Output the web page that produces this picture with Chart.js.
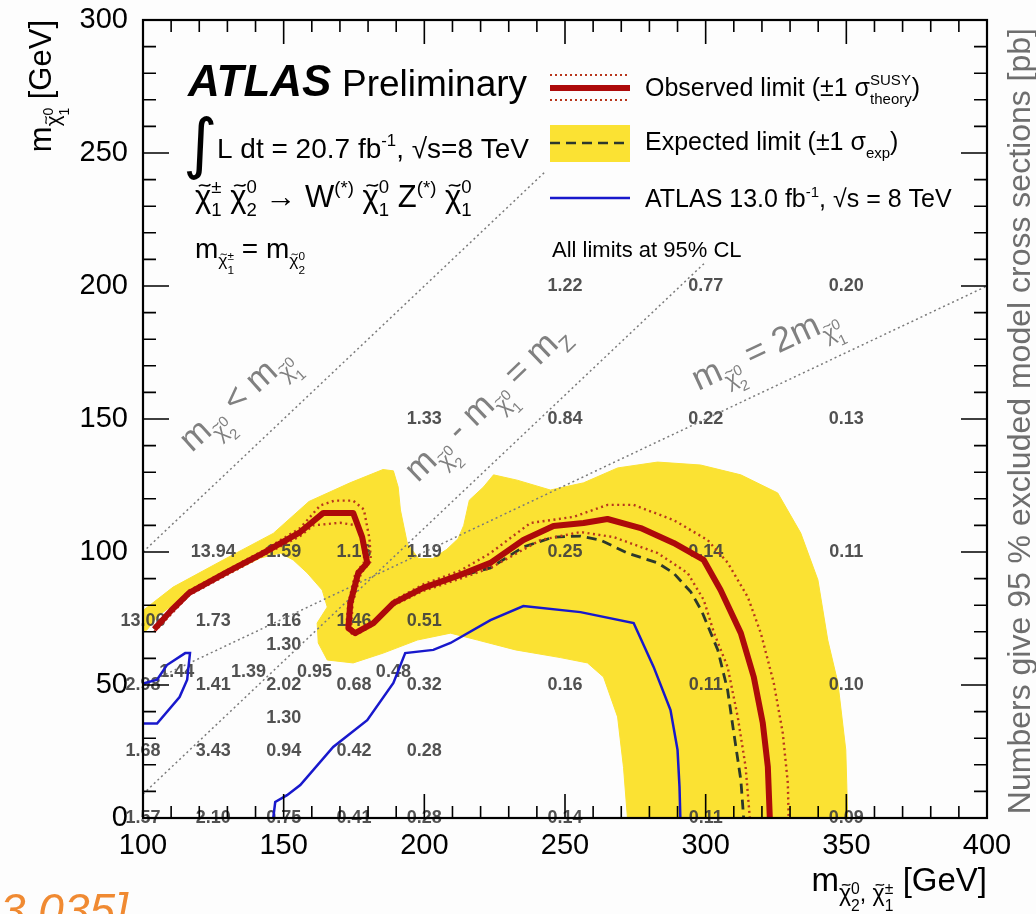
<!DOCTYPE html>
<html>
<head>
<meta charset="utf-8">
<title>ATLAS WZ chargino-neutralino limits</title>
<script src="https://cdn.jsdelivr.net/npm/chart.js@4.4.1/dist/chart.umd.min.js"></script>
<style>
  html, body { margin: 0; padding: 0; background: #fff; }
  canvas { display: block; }
</style>
</head>
<body>
<canvas id="limitChart" width="1036" height="914"></canvas>
<script>
const FONT = '"Liberation Sans", Arial, Helvetica, sans-serif';

// x = m(chi2^0) = m(chi1^+-), y = m(chi1^0), both GeV
const xRange = [100, 400];
const yRange = [0, 300];

// observed limit (thick red)
const observedLimit = [
  [104, 71], [110, 78], [116.4, 84.6], [130, 92.5], [142.7, 99.6], [155.9, 107.5],
  [164.1, 114.7], [174.7, 114.7], [177.9, 105.6], [179.7, 95.9], [176.5, 92.1],
  [173.7, 80.8], [173, 71.4], [175.4, 69.5], [181.9, 73.3], [189, 80.8], [199.6, 86.5],
  [212.8, 91.4], [223.5, 95.9], [235.2, 104.5], [245.9, 109.8], [256.6, 110.9],
  [265.1, 112.4], [276.9, 109], [288.6, 103.4], [299.3, 97], [305.3, 85.7],
  [312.5, 69.5], [317.1, 53], [320.3, 35.7], [322.1, 19.2], [322.8, 0]
];

// observed +1 sigma theory (dotted, outer)
const observedUp = [
  [104, 72], [116.4, 85.5], [142.7, 100.5], [155.9, 109], [163, 117.5], [168, 119.3],
  [174.7, 119.3], [178.5, 116], [180.5, 105], [181, 96.5], [177.5, 92], [174.5, 80.8],
  [174, 71.4], [176, 70], [182.5, 74.5], [189.5, 82], [200, 88], [212.8, 93],
  [223.5, 99.6], [237.7, 110.9], [253, 113.2], [265.1, 117.7], [274.4, 117.7],
  [288.6, 112], [300.7, 104.5], [307.8, 96], [315, 83], [319.6, 69.5], [324.2, 50.8],
  [327.4, 32], [329.2, 13.2], [329.5, 0]
];

// observed -1 sigma theory (dotted, inner)
const observedDown = [
  [104, 70], [116.4, 83.8], [142.7, 98.7], [155.9, 106], [160.5, 110], [170, 111],
  [176, 110], [178.8, 103], [178.5, 96], [175.5, 92], [173, 80.8], [172.2, 71.4],
  [175, 68.5], [181.5, 72.3], [188.7, 79.8], [199.4, 85.3], [212.8, 90], [223.5, 94],
  [241.3, 104.5], [255.5, 107.5], [267.3, 105.6], [282.9, 99.6], [293.6, 92.1],
  [299.3, 82], [303, 69.5], [307.8, 56.8], [311.4, 38], [314.2, 19.2], [315.7, 0]
];

// expected limit (dashed)
const expectedLimit = [
  [104, 71], [110, 78], [116.4, 84.6], [130, 92.5], [142.7, 99.6], [155.9, 107.5],
  [164.1, 114.7], [174.7, 114.7], [177.9, 105.6], [179.7, 95.9], [176.5, 92.1],
  [173.7, 80.8], [173, 71.4], [175.4, 69.5], [181.9, 73.3], [189, 80.8], [199.6, 86.5],
  [212.8, 91], [223.5, 94], [235.2, 101.9], [245.9, 105.6], [255.5, 106], [262.6, 104.5],
  [272.2, 99.6], [282.9, 95.9], [288.6, 92.1], [294.7, 85], [298.5, 78], [304.3, 63.2],
  [307.8, 48.1], [310, 32], [312.5, 14.3], [313.5, 0]
];

// expected +-1 sigma band outline (yellow)
const expectedBand = [
  [100, 78], [110.7, 86.8], [128.5, 97], [146.3, 107], [159, 119], [173.6, 126],
  [185.3, 131], [189, 130.5], [190.7, 124.4], [191.5, 115.8], [194, 103], [198, 97.5],
  [203, 97.5], [208, 101], [212, 105], [214, 110], [216, 119.5], [221, 124.4], [224.6, 129],
  [233, 127], [244.8, 123.3], [256.6, 126], [268.7, 131.6], [282.9, 133.8], [298.2, 132.7],
  [312.5, 129], [325.6, 122.2], [333.8, 107.1], [339.9, 89.5], [343.4, 66.9], [347, 50.8],
  [349.8, 25.6], [350.5, 0], [272.2, 0], [270.8, 19], [268.7, 38], [263.7, 53],
  [258, 58.3], [248.4, 60.3], [232.4, 63.2], [218.9, 66.9], [209.3, 69.5], [197.5, 66.9],
  [185.4, 62], [174.7, 58.3], [165.5, 59.4], [162.3, 65.8], [161.9, 73.3], [165.5, 79.3],
  [163.7, 85.7], [158.4, 92.1], [153.4, 97], [148.8, 99.6], [141.6, 97.7], [126.3, 89.5],
  [114.2, 83.1], [105, 75.6], [101.4, 70.7], [100, 70]
];

// previous ATLAS 13.0 fb-1 limit (blue), two pieces
const atlas13Left = [
  [100, 35.5], [105, 35.5], [113, 45.5], [115.7, 52], [116.7, 62], [115, 62],
  [108.5, 57.5], [105, 52], [100, 50.5]
];
const atlas13Right = [
  [146.3, 0], [147, 6], [151.2, 8.6], [155.9, 12.4], [167.6, 26.7], [179.7, 36.8],
  [189, 50.8], [193.2, 62], [203.2, 63.2], [209.3, 65.8], [223.5, 74.4], [235.2, 79.7],
  [255.5, 77.4], [274.4, 73.3], [281.5, 56.8], [287.5, 40.6], [290, 25.6], [290.7, 11.7],
  [291, 0]
];

// kinematic boundaries
const kinEqual = [[100, 100], [243, 243]];
const kinZ = [[100, 9], [300, 209]];
const kinHalf = [[100, 50], [400, 200]];

// excluded cross sections [pb] at grid points: x, y, text
const crossSections = [
  [100, 0, '1.57'], [125, 0, '2.10'], [150, 0, '0.75'], [175, 0, '0.41'], [200, 0, '0.28'],
  [250, 0, '0.14'], [300, 0, '0.11'], [350, 0, '0.09'],
  [100, 25, '1.68'], [125, 25, '3.43'], [150, 25, '0.94'], [175, 25, '0.42'], [200, 25, '0.28'],
  [150, 37.5, '1.30'],
  [100, 50, '2.98'], [125, 50, '1.41'], [150, 50, '2.02'], [175, 50, '0.68'], [200, 50, '0.32'],
  [250, 50, '0.16'], [300, 50, '0.11'], [350, 50, '0.10'],
  [112, 55, '1.44'], [137.5, 55, '1.39'], [161, 55, '0.95'], [189, 55, '0.48'],
  [150, 65, '1.30'],
  [100, 74, '13.06'], [125, 74, '1.73'], [150, 74, '1.16'], [175, 74, '1.46'], [200, 74, '0.51'],
  [125, 100, '13.94'], [150, 100, '1.59'], [175, 100, '1.16'], [200, 100, '1.19'],
  [250, 100, '0.25'], [300, 100, '0.14'], [350, 100, '0.11'],
  [200, 150, '1.33'], [250, 150, '0.84'], [300, 150, '0.22'], [350, 150, '0.13'],
  [250, 200, '1.22'], [300, 200, '0.77'], [350, 200, '0.20']
];

// where the boundary labels sit (data coords) and their angle
const kinLabelPos = [[135.5, 154.5], [224.6, 153.4], [322.6, 173]];
const kinLabelAngle = [-42, -44, -25];

const BAND_YELLOW = '#fbe233';
const OBS_RED = '#ad0a0a';
const SIGMA_DOT = '#b8361c';
const EXP_DASH = '#2c382c';
const OLD_BLUE = '#1818cc';
const DIAG_GREY = '#7a7a7a';

const toXY = pts => pts.map(([x, y]) => ({ x, y }));

// rich text: parts are strings or {t, s (scale), dy (em, + = down), keep (stack with next), tilde}
function drawRich(ctx, parts, x, y, size, opts) {
  opts = opts || {};
  const style = opts.style || '';
  const fontFor = s => `${style} ${(size * s).toFixed(1)}px ${opts.family || FONT}`;
  const items = parts.map(p => (typeof p === 'string' ? { t: p } : p));
  items.forEach(p => {
    ctx.font = fontFor(p.s || 1);
    p.w = ctx.measureText(p.t).width;
  });
  let w = 0, pending = 0;
  items.forEach(p => {
    if (p.keep) { pending = Math.max(pending, p.w); return; }
    w += Math.max(p.w, pending); pending = 0;
  });
  w += pending;
  ctx.save();
  ctx.translate(x, y);
  if (opts.angle) ctx.rotate(opts.angle * Math.PI / 180);
  let cx = opts.align === 'right' ? -w : opts.align === 'center' ? -w / 2 : 0;
  ctx.fillStyle = opts.color || '#000';
  ctx.strokeStyle = opts.color || '#000';
  ctx.textBaseline = 'alphabetic';
  ctx.textAlign = 'left';
  pending = 0;
  items.forEach(p => {
    const fs = size * (p.s || 1);
    const by = (p.dy || 0) * size;
    ctx.font = fontFor(p.s || 1);
    ctx.fillText(p.t, cx, by);
    if (p.tilde) {
      // little wave over the chi
      const tw = p.w * 0.7, t0 = cx + (p.w - tw) / 2 + fs * 0.05, ty = by - fs * 0.7;
      ctx.lineWidth = Math.max(1, fs * 0.055);
      ctx.beginPath();
      ctx.moveTo(t0, ty + fs * 0.03);
      ctx.bezierCurveTo(t0 + tw * 0.3, ty - fs * 0.1, t0 + tw * 0.7, ty + fs * 0.12, t0 + tw, ty - fs * 0.03);
      ctx.stroke();
    }
    if (p.keep) { pending = Math.max(pending, p.w); return; }
    cx += Math.max(p.w, pending); pending = 0;
  });
  ctx.restore();
  return w;
}

// chi-tilde with stacked sup/sub, full size or as a subscript of m
const chiFull = (up, down) => [
  { t: 'χ', tilde: true }, { t: up, s: 0.6, dy: -0.45, keep: true }, { t: down, s: 0.6, dy: 0.3 }
];
const chiSub = (up, down, k = 0.62) => [
  { t: 'χ', s: k, dy: 0.3, tilde: true }, { t: up, s: k * 0.68, dy: 0.08, keep: true },
  { t: down, s: k * 0.68, dy: 0.3 + k * 0.42 }
];
const supText = t => ({ t, s: 0.6, dy: -0.42 });

function seg(ctx, x0, y0, x1, y1, color, width, dash) {
  ctx.save();
  ctx.strokeStyle = color;
  ctx.lineWidth = width;
  ctx.setLineDash(dash || []);
  ctx.beginPath();
  ctx.moveTo(x0, y0);
  ctx.lineTo(x1, y1);
  ctx.stroke();
  ctx.restore();
}

const whiteBackground = {
  id: 'whiteBackground',
  beforeDraw(chart) {
    const ctx = chart.ctx;
    ctx.save();
    ctx.fillStyle = '#fdfdfd';
    ctx.fillRect(0, 0, chart.width, chart.height);
    ctx.restore();
  }
};

// numbers go on top of the yellow band but under the limit lines
const crossSectionLabels = {
  id: 'crossSectionLabels',
  afterDatasetDraw(chart, args) {
    if (args.index !== 0) return;
    const { ctx, scales: { x, y } } = chart;
    ctx.save();
    ctx.font = `bold 18px ${FONT}`;
    ctx.fillStyle = 'rgba(62,62,62,0.9)';
    ctx.textAlign = 'center';
    ctx.textBaseline = 'middle';
    crossSections.forEach(([vx, vy, txt]) => {
      ctx.fillText(txt, x.getPixelForValue(vx), y.getPixelForValue(vy));
    });
    ctx.restore();
  }
};

// ROOT style frame with inward ticks on all four sides
const frameTicks = {
  id: 'frameTicks',
  afterDatasetsDraw(chart) {
    const { ctx, chartArea: a, scales: { x, y } } = chart;
    ctx.save();
    ctx.strokeStyle = '#000';
    ctx.lineWidth = 1.6;
    ctx.beginPath();
    for (let v = xRange[0]; v <= xRange[1]; v += 10) {
      const px = x.getPixelForValue(v);
      const len = v % 50 === 0 ? 24 : 12;
      ctx.moveTo(px, a.bottom); ctx.lineTo(px, a.bottom - len);
      ctx.moveTo(px, a.top); ctx.lineTo(px, a.top + len);
    }
    for (let v = yRange[0]; v <= yRange[1]; v += 10) {
      const py = y.getPixelForValue(v);
      const len = v % 50 === 0 ? 26 : 13;
      ctx.moveTo(a.left, py); ctx.lineTo(a.left + len, py);
      ctx.moveTo(a.right, py); ctx.lineTo(a.right - len, py);
    }
    ctx.stroke();
    ctx.lineWidth = 2.2;
    ctx.strokeRect(a.left, a.top, a.right - a.left, a.bottom - a.top);
    ctx.restore();
  }
};

const annotations = {
  id: 'annotations',
  afterDraw(chart) {
    const { ctx, chartArea: a, scales: { x, y } } = chart;

    // axis titles
    drawRich(ctx, ['m', ...chiSub('0', '2', 0.7), { t: ', ', s: 0.7, dy: 0.3 }, ...chiSub('±', '1', 0.7), ' [GeV]'],
      a.right, 891, 33, { align: 'right' });
    drawRich(ctx, ['m', ...chiSub('0', '1', 0.66), ' [GeV]'], 51, a.top, 31, { angle: -90, align: 'right' });
    drawRich(ctx, ['Numbers give 95 % excluded model cross sections [pb]'], 1030, a.top + 8, 32,
      { angle: -90, align: 'right', color: '#6e6e6e' });

    // kinematic boundary labels
    const kinTexts = [
      ['m', ...chiSub('0', '2'), ' < m', ...chiSub('0', '1')],
      ['m', ...chiSub('0', '2'), ' - m', ...chiSub('0', '1'), ' = m', { t: 'Z', s: 0.62, dy: 0.3 }],
      ['m', ...chiSub('0', '2'), ' = 2m', ...chiSub('0', '1')]
    ];
    kinTexts.forEach((parts, i) => {
      const [lx, ly] = kinLabelPos[i];
      drawRich(ctx, parts, x.getPixelForValue(lx), y.getPixelForValue(ly), 35,
        { angle: kinLabelAngle[i], align: 'center', color: '#808080' });
    });

    // ATLAS label block
    drawRich(ctx, ['ATLAS'], 188, 96, 44, { style: 'italic bold' });
    drawRich(ctx, ['Preliminary'], 342, 96, 37);
    drawRich(ctx, ['∫'], 183, 166, 66, { family: '"DejaVu Sans", sans-serif' });
    drawRich(ctx, ['L dt = 20.7 fb', supText('-1'), ', √s=8 TeV'], 217, 158, 28);
    drawRich(ctx, [...chiFull('±', '1'), ' ', ...chiFull('0', '2'), ' → W', supText('(*)'), ' ',
      ...chiFull('0', '1'), ' Z', supText('(*)'), ' ', ...chiFull('0', '1')], 195, 207, 31);
    drawRich(ctx, ['m', ...chiSub('±', '1'), ' = m', ...chiSub('0', '2')], 195, 258, 28);

    // legend
    const lx0 = 550, lx1 = 630, tx = 645;
    seg(ctx, lx0, 75, lx1, 75, SIGMA_DOT, 2.2, [2, 3]);
    seg(ctx, lx0, 100, lx1, 100, SIGMA_DOT, 2.2, [2, 3]);
    seg(ctx, lx0, 88, lx1, 88, OBS_RED, 6);
    drawRich(ctx, ['Observed limit (±1 σ', { t: 'SUSY', s: 0.6, dy: -0.45, keep: true },
      { t: 'theory', s: 0.6, dy: 0.3 }, ')'], tx, 96, 25);
    ctx.save();
    ctx.fillStyle = BAND_YELLOW;
    ctx.fillRect(lx0, 125, lx1 - lx0, 37);
    ctx.restore();
    seg(ctx, lx0, 143, lx1, 143, EXP_DASH, 2.6, [10, 6]);
    drawRich(ctx, ['Expected limit (±1 σ', { t: 'exp', s: 0.6, dy: 0.3 }, ')'], tx, 150, 25);
    seg(ctx, lx0, 198, lx1, 198, OLD_BLUE, 2.5);
    drawRich(ctx, ['ATLAS 13.0 fb', supText('-1'), ', √s = 8 TeV'], tx, 207, 25);
    drawRich(ctx, ['All limits at 95% CL'], 552, 257, 22);

    // clipped reference text at the bottom edge
    drawRich(ctx, ['3.035]'], 0, 926, 46, { style: 'italic', color: '#f08a32' });
  }
};

const lineDefaults = { showLine: true, pointRadius: 0, fill: false, tension: 0 };

new Chart(document.getElementById('limitChart'), {
  type: 'line',
  data: {
    datasets: [
      { ...lineDefaults, label: 'Expected ±1σ band', data: toXY(expectedBand), fill: 'shape',
        backgroundColor: BAND_YELLOW, borderColor: BAND_YELLOW, borderWidth: 1, order: 10 },
      { ...lineDefaults, label: 'm2 = m1', data: toXY(kinEqual), borderColor: DIAG_GREY,
        borderWidth: 1.5, borderDash: [2, 3], order: 9 },
      { ...lineDefaults, label: 'm2 - m1 = mZ', data: toXY(kinZ), borderColor: DIAG_GREY,
        borderWidth: 1.5, borderDash: [2, 3], order: 9 },
      { ...lineDefaults, label: 'm2 = 2 m1', data: toXY(kinHalf), borderColor: DIAG_GREY,
        borderWidth: 1.5, borderDash: [2, 3], order: 9 },
      { ...lineDefaults, label: 'Expected limit', data: toXY(expectedLimit), borderColor: EXP_DASH,
        borderWidth: 2.8, borderDash: [10, 6], order: 5 },
      { ...lineDefaults, label: 'Observed +1σ', data: toXY(observedUp), borderColor: SIGMA_DOT,
        borderWidth: 2.4, borderDash: [2, 3.5], order: 4 },
      { ...lineDefaults, label: 'Observed -1σ', data: toXY(observedDown), borderColor: SIGMA_DOT,
        borderWidth: 2.4, borderDash: [2, 3.5], order: 4 },
      { ...lineDefaults, label: 'Observed limit', data: toXY(observedLimit), borderColor: OBS_RED,
        borderWidth: 6, borderJoinStyle: 'round', order: 3 },
      { ...lineDefaults, label: 'ATLAS 13.0 fb-1', data: toXY(atlas13Left), borderColor: OLD_BLUE,
        borderWidth: 2.5, order: 2 },
      { ...lineDefaults, label: 'ATLAS 13.0 fb-1 (b)', data: toXY(atlas13Right), borderColor: OLD_BLUE,
        borderWidth: 2.5, order: 2 }
    ]
  },
  options: {
    responsive: false,
    animation: false,
    events: [],
    layout: { padding: { top: 20, right: 49, bottom: 0, left: 0 } },
    plugins: {
      legend: { display: false },
      tooltip: { enabled: false }
    },
    scales: {
      x: {
        type: 'linear',
        min: xRange[0],
        max: xRange[1],
        grid: { display: false, drawTicks: false },
        border: { display: false },
        ticks: { stepSize: 50, padding: 11, maxRotation: 0, color: '#000', font: { family: FONT, size: 29 } },
        afterFit(scale) { scale.height = 96; }
      },
      y: {
        type: 'linear',
        min: yRange[0],
        max: yRange[1],
        grid: { display: false, drawTicks: false },
        border: { display: false },
        // small lineHeight keeps the top label from pushing the plot area down
        ticks: { stepSize: 50, padding: 15, color: '#000', font: { family: FONT, size: 29, lineHeight: 0.3 } },
        afterFit(scale) { scale.width = 143; }
      }
    }
  },
  plugins: [whiteBackground, crossSectionLabels, frameTicks, annotations]
});
</script>
</body>
</html>
